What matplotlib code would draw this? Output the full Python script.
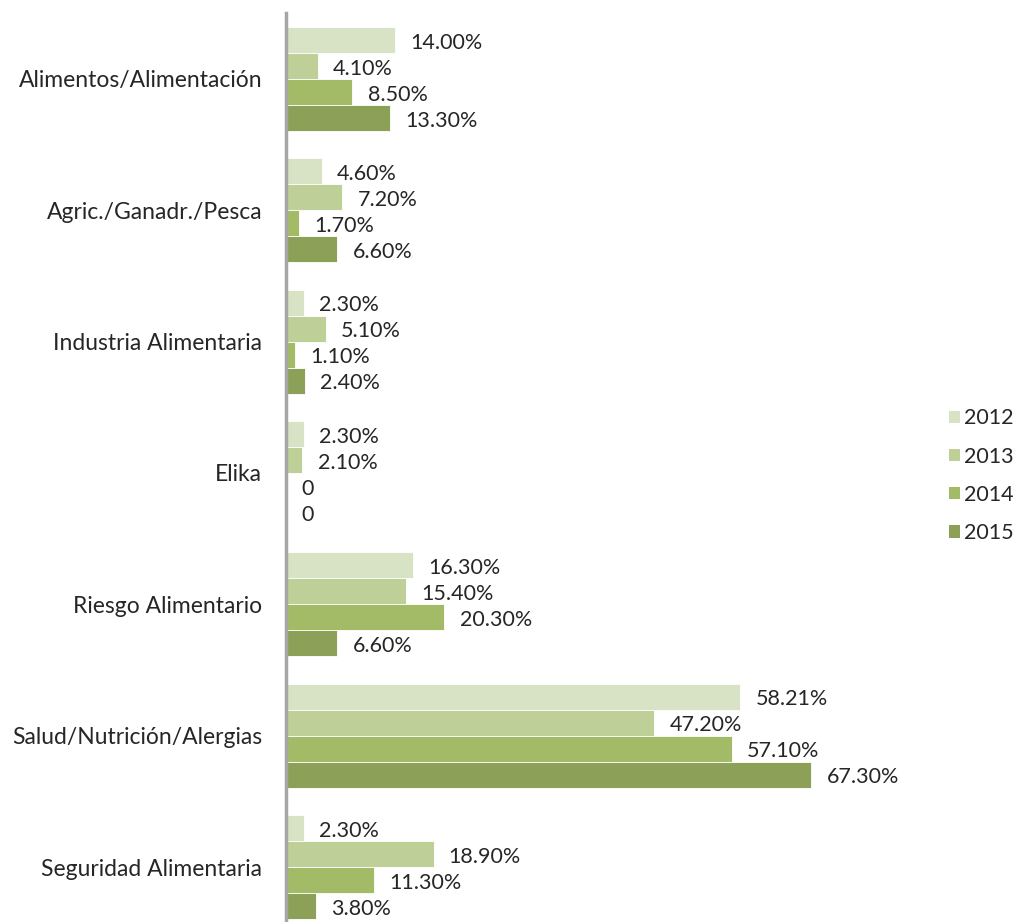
import numpy as np
import matplotlib.pyplot as plt
from matplotlib.patches import Patch

plt.rcParams['font.family'] = ['Lato', 'DejaVu Sans']

categorias = ['Alimentos/Alimentación', 'Agric./Ganadr./Pesca', 'Industria Alimentaria',
              'Elika', 'Riesgo Alimentario', 'Salud/Nutrición/Alergias', 'Seguridad Alimentaria']
anios = ['2012', '2013', '2014', '2015']
v2012 = [14.00, 4.60, 2.30, 2.30, 16.30, 58.21, 2.30]
v2013 = [4.10, 7.20, 5.10, 2.10, 15.40, 47.20, 18.90]
v2014 = [8.50, 1.70, 1.10, 0, 20.30, 57.10, 11.30]
v2015 = [13.30, 6.60, 2.40, 0, 6.60, 67.30, 3.80]
series = [v2012, v2013, v2014, v2015]
colores = ['#D8E3C6', '#BED097', '#A3BB67', '#8DA057']

fig = plt.figure(figsize=(10.14, 9.22), dpi=100)
ax = fig.add_axes([0.282, -0.0116, 0.539, 0.9972])

y = np.arange(len(categorias))
h = 0.198
for i, (vals, c) in enumerate(zip(series, colores)):
    pos = y + (i - 1.5) * h
    ax.barh(pos, vals, height=h, color=c, edgecolor='white', linewidth=0.6)
    for p, v in zip(pos, vals):
        txt = '0' if v == 0 else f'{v:.2f}%'
        ax.annotate(txt, (v, p), xytext=(11, -2), textcoords='offset points',
                    ha='left', va='center', fontsize=15.5, color='#262626')

ax.set_ylim(len(categorias) - 0.5, -0.5)
ax.set_xlim(0, 70)
ax.set_yticks(y)
ax.set_yticklabels(categorias, fontsize=16.5, color='#262626')
ax.tick_params(axis='y', length=0, pad=17)
ax.set_xticks([])
for s in ['top', 'right', 'bottom']:
    ax.spines[s].set_visible(False)
ax.spines['left'].set_color('#A6A6A6')
ax.spines['left'].set_linewidth(2.5)

handles = [Patch(facecolor=c, label=a) for c, a in zip(colores, anios)]
fig.legend(handles=handles, loc='center left', bbox_to_anchor=(0.936, 0.484),
           frameon=False, fontsize=15.5, handlelength=0.5, handleheight=0.5,
           handletextpad=0.2, labelspacing=0.85, labelcolor='#262626',
           borderpad=0, borderaxespad=0)

plt.savefig('out.png', dpi=100)
